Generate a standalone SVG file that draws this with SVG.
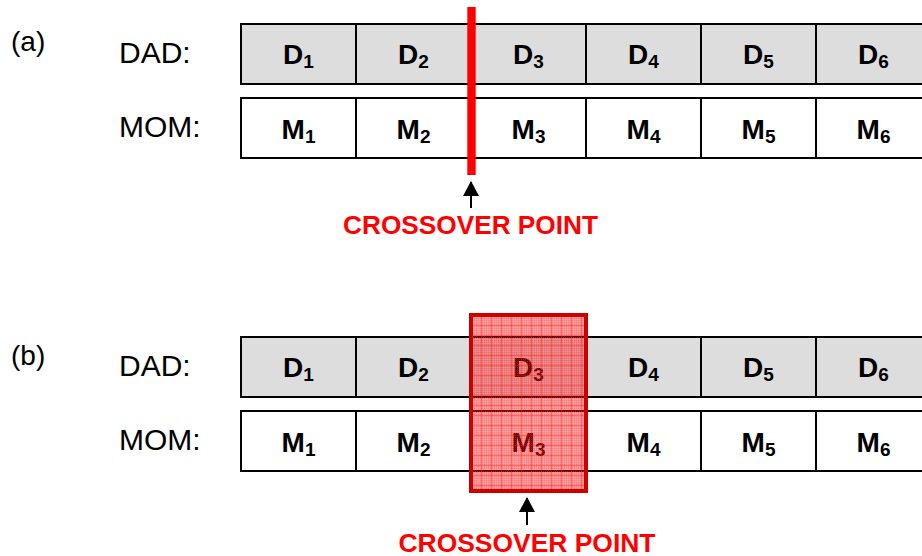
<svg xmlns="http://www.w3.org/2000/svg" width="922" height="556" viewBox="0 0 922 556">
  <style>
    .lbl { font-family: "Liberation Sans", Arial, sans-serif; font-size: 30px; fill: #000; }
    .tag { font-family: "Liberation Sans", Arial, sans-serif; font-size: 28px; fill: #000; }
    .dad { fill: #dddddd; stroke: #000; stroke-width: 2; }
    .mom { fill: #ffffff; stroke: #000; stroke-width: 2; }
    .gene { font-family: "Liberation Sans", Arial, sans-serif; font-weight: bold; font-size: 28px; fill: #000; text-anchor: middle; }
    .sub { font-size: 19px; }
    .xo { font-family: "Liberation Sans", Arial, sans-serif; font-weight: bold; font-size: 25px; fill: #ff0000; text-anchor: middle; }
    .arrow { stroke: #000; stroke-width: 2; fill: none; marker-end: url(#head); }
  </style>
  <defs>
    <marker id="head" viewBox="0 0 16 16" refX="8" refY="1" markerWidth="16" markerHeight="16" markerUnits="userSpaceOnUse" orient="0">
      <path d="M0 15 L8 0 L16 15 Z" fill="#000"/>
    </marker>
    <!-- fine dither for the swapped segment -->
    <pattern id="dither" width="2" height="2" patternUnits="userSpaceOnUse">
      <rect width="2" height="2" fill="#ff0000" fill-opacity="0.42"/>
      <rect width="1" height="1" fill="#ff0000" fill-opacity="0.18"/>
      <rect x="1" y="1" width="1" height="1" fill="#ffffff" fill-opacity="0.15"/>
    </pattern>
    <pattern id="grid" x="471" y="315" width="10" height="10" patternUnits="userSpaceOnUse">
      <path d="M0 0.5 H10 M0.5 0 V10" stroke="#ff0000" stroke-opacity="0.35" stroke-width="1"/>
    </pattern>
  </defs>

  <!-- panel (a) -->
  <g id="panel-a">
    <text class="tag" x="11" y="51">(a)</text>
    <text class="lbl" x="119" y="63">DAD:</text>
    <text class="lbl" x="119" y="137">MOM:</text>

    <g id="a-dad">
      <g id="a-D1"><rect class="dad" x="241" y="24" width="115" height="60"/><text class="gene" x="298.5" y="64">D<tspan class="sub" dy="4">1</tspan></text></g>
      <g id="a-D2"><rect class="dad" x="356" y="24" width="115" height="60"/><text class="gene" x="413.5" y="64">D<tspan class="sub" dy="4">2</tspan></text></g>
      <g id="a-D3"><rect class="dad" x="471" y="24" width="115" height="60"/><text class="gene" x="528.5" y="64">D<tspan class="sub" dy="4">3</tspan></text></g>
      <g id="a-D4"><rect class="dad" x="586" y="24" width="115" height="60"/><text class="gene" x="643.5" y="64">D<tspan class="sub" dy="4">4</tspan></text></g>
      <g id="a-D5"><rect class="dad" x="701" y="24" width="115" height="60"/><text class="gene" x="758.5" y="64">D<tspan class="sub" dy="4">5</tspan></text></g>
      <g id="a-D6"><rect class="dad" x="816" y="24" width="115" height="60"/><text class="gene" x="873.5" y="64">D<tspan class="sub" dy="4">6</tspan></text></g>
    </g>
    <g id="a-mom">
      <g id="a-M1"><rect class="mom" x="241" y="98" width="115" height="60"/><text class="gene" x="298.5" y="139">M<tspan class="sub" dy="4">1</tspan></text></g>
      <g id="a-M2"><rect class="mom" x="356" y="98" width="115" height="60"/><text class="gene" x="413.5" y="139">M<tspan class="sub" dy="4">2</tspan></text></g>
      <g id="a-M3"><rect class="mom" x="471" y="98" width="115" height="60"/><text class="gene" x="528.5" y="139">M<tspan class="sub" dy="4">3</tspan></text></g>
      <g id="a-M4"><rect class="mom" x="586" y="98" width="115" height="60"/><text class="gene" x="643.5" y="139">M<tspan class="sub" dy="4">4</tspan></text></g>
      <g id="a-M5"><rect class="mom" x="701" y="98" width="115" height="60"/><text class="gene" x="758.5" y="139">M<tspan class="sub" dy="4">5</tspan></text></g>
      <g id="a-M6"><rect class="mom" x="816" y="98" width="115" height="60"/><text class="gene" x="873.5" y="139">M<tspan class="sub" dy="4">6</tspan></text></g>
    </g>

    <!-- single cut between positions 2 and 3 -->
    <g id="a-cut">
      <rect x="467.3" y="7" width="8.4" height="168" fill="#ff0000"/>
      <text class="xo" x="470.5" y="234" textLength="255" lengthAdjust="spacingAndGlyphs">CROSSOVER POINT</text>
    </g>
  </g>

  <!-- panel (b) -->
  <g id="panel-b">
    <text class="tag" x="11" y="365">(b)</text>
    <text class="lbl" x="119" y="376">DAD:</text>
    <text class="lbl" x="119" y="450">MOM:</text>

    <g id="b-dad">
      <g id="b-D1"><rect class="dad" x="241" y="337" width="115" height="60"/><text class="gene" x="298.5" y="377">D<tspan class="sub" dy="4">1</tspan></text></g>
      <g id="b-D2"><rect class="dad" x="356" y="337" width="115" height="60"/><text class="gene" x="413.5" y="377">D<tspan class="sub" dy="4">2</tspan></text></g>
      <g id="b-D3"><rect class="dad" x="471" y="337" width="115" height="60"/><text class="gene" x="528.5" y="377">D<tspan class="sub" dy="4">3</tspan></text></g>
      <g id="b-D4"><rect class="dad" x="586" y="337" width="115" height="60"/><text class="gene" x="643.5" y="377">D<tspan class="sub" dy="4">4</tspan></text></g>
      <g id="b-D5"><rect class="dad" x="701" y="337" width="115" height="60"/><text class="gene" x="758.5" y="377">D<tspan class="sub" dy="4">5</tspan></text></g>
      <g id="b-D6"><rect class="dad" x="816" y="337" width="115" height="60"/><text class="gene" x="873.5" y="377">D<tspan class="sub" dy="4">6</tspan></text></g>
    </g>
    <g id="b-mom">
      <g id="b-M1"><rect class="mom" x="241" y="411" width="115" height="60"/><text class="gene" x="298.5" y="452">M<tspan class="sub" dy="4">1</tspan></text></g>
      <g id="b-M2"><rect class="mom" x="356" y="411" width="115" height="60"/><text class="gene" x="413.5" y="452">M<tspan class="sub" dy="4">2</tspan></text></g>
      <g id="b-M3"><rect class="mom" x="471" y="411" width="115" height="60"/><text class="gene" x="528.5" y="452">M<tspan class="sub" dy="4">3</tspan></text></g>
      <g id="b-M4"><rect class="mom" x="586" y="411" width="115" height="60"/><text class="gene" x="643.5" y="452">M<tspan class="sub" dy="4">4</tspan></text></g>
      <g id="b-M5"><rect class="mom" x="701" y="411" width="115" height="60"/><text class="gene" x="758.5" y="452">M<tspan class="sub" dy="4">5</tspan></text></g>
      <g id="b-M6"><rect class="mom" x="816" y="411" width="115" height="60"/><text class="gene" x="873.5" y="452">M<tspan class="sub" dy="4">6</tspan></text></g>
    </g>

    <!-- exchanged segment at position 3 -->
    <g id="b-segment">
      <rect x="471" y="315" width="115" height="176" fill="url(#dither)"/>
      <rect x="471" y="315" width="115" height="176" fill="url(#grid)"/>
      <rect x="471" y="315" width="115" height="176" fill="none" stroke="#cc0000" stroke-width="4"/>
      <text class="xo" x="527" y="552" textLength="257" lengthAdjust="spacingAndGlyphs">CROSSOVER POINT</text>
    </g>
  </g>

  <!-- pointer arrows -->
  <g id="connectors">
    <line class="arrow" x1="471" y1="208" x2="471" y2="182"/>
    <line class="arrow" x1="527" y1="525" x2="527" y2="498"/>
  </g>
</svg>
